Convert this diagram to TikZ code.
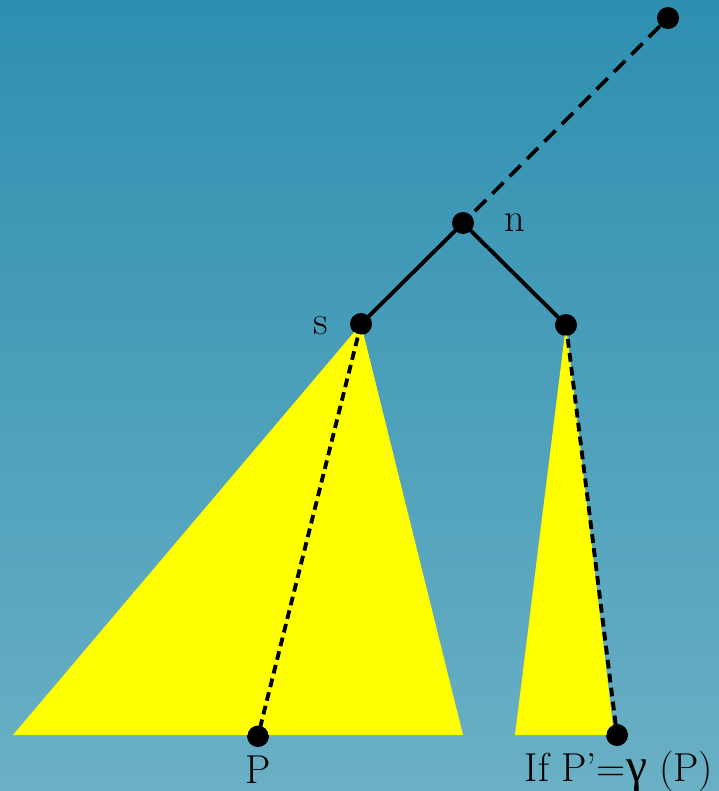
\documentclass[tikz,border=0pt]{standalone}
\usepackage{fontspec}
\usepackage{tikz}
\usetikzlibrary{positioning,calc,backgrounds}
\newfontfamily\gammafont{Liberation Serif}
\definecolor{skytop}{RGB}{46, 143, 176}
\definecolor{skybottom}{RGB}{106, 176, 197}
\definecolor{subtree}{RGB}{255, 255, 0}

\begin{document}
\begin{tikzpicture}[
    x=0.02cm, y=-0.02cm,
    dot/.style={circle, fill=black, inner sep=0pt, minimum size=0.44cm},
    lbl/.style={font=\fontsize{23}{27}\selectfont, inner sep=0pt},
    treeedge/.style={line width=2.2pt, black},
    rootpath/.style={line width=2.2pt, black, dash pattern=on 9pt off 5pt},
    subpath/.style={line width=2.2pt, black, dash pattern=on 5pt off 3pt}
]
    % background
    \shade[top color=skytop, bottom color=skybottom] (0,0) rectangle (719,791);
    \useasboundingbox (0,0) rectangle (719,791);

    % tree nodes
    \node[dot] (root) at (668,18) {};
    \node[dot] (n) at (463,223) {};
    \node[dot] (s) at (361,324) {};
    \node[dot] (r) at (566,325) {};
    \node[dot] (p) at (258,736) {};
    \node[dot] (pp) at (617,735) {};

    % subtrees
    \fill[subtree] (13,735) -- (s.center) -- (463,735) -- cycle;
    \fill[subtree] (515,735) -- (r.center) -- (614,735) -- cycle;

    % labels
    \node[lbl] (nlbl) at (515,223) {n};
    \node[lbl] (slbl) at (321,326) {s};
    \node[lbl, anchor=base] (plbl) at (258,783) {P};
    \node[lbl, anchor=base] (pplbl) at (619,781) {If P'={\gammafont\fontsize{27}{27}\selectfont γ} (P)};

    % edges
    \draw[rootpath] (root) -- (n);
    \draw[treeedge] (n.center) -- (s.center);
    \draw[treeedge] (n.center) -- (r.center);
    \draw[subpath] (s.center) -- (p.center);
    \draw[subpath] (r.center) -- (pp.center);

    % redraw dots on top
    \foreach \v in {root,n,s,r,p,pp}
        \fill (\v) circle (0.21cm);
\end{tikzpicture}
\end{document}
